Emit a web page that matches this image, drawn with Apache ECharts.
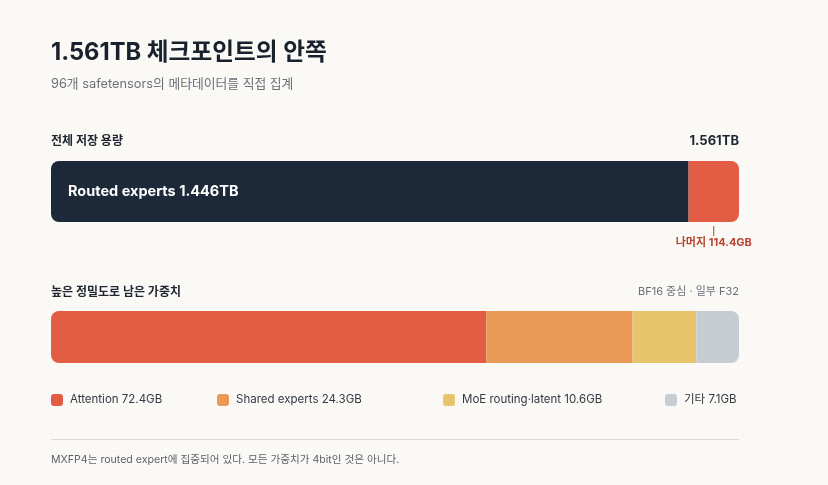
<!DOCTYPE html>
<html>
<head>
<meta charset="utf-8">
<script src="https://cdn.jsdelivr.net/npm/echarts@6/dist/echarts.min.js"></script>
<style>
  html, body { margin: 0; padding: 0; background: #faf9f6; }
  #chart { width: 828px; height: 485px; }
</style>
</head>
<body>
<div id="chart"></div>
<script>
// 전체 저장 용량 (GB)
const storageNames = ['Routed experts', '나머지'];
const storageValues = [1446, 114.4];
const storageLabels = ['1.446TB', '114.4GB'];
const totalLabel = '1.561TB';

// 높은 정밀도로 남은 가중치 (GB)
const precisionNames = ['Attention', 'Shared experts', 'MoE routing·latent', '기타'];
const precisionValues = [72.4, 24.3, 10.6, 7.1];
const precisionLabels = ['72.4GB', '24.3GB', '10.6GB', '7.1GB'];

const FONT = 'Inter, "Noto Sans CJK KR", sans-serif';
const storageColors = ['#1d2939', '#e35d45'];
const precisionColors = ['#e35d45', '#e89a56', '#e8c56d', '#c5cdd3'];

const sum = a => a.reduce((s, v) => s + v, 0);

const chart = echarts.init(document.getElementById('chart'));

function radius(i, n, r) {
  if (n === 1) return r;
  if (i === 0) return [r, 0, 0, r];
  if (i === n - 1) return [0, r, r, 0];
  return 0;
}

const series = [];
storageNames.forEach((name, i) => {
  series.push({
    type: 'bar',
    name: name,
    stack: 'storage',
    xAxisIndex: 0,
    yAxisIndex: 0,
    barWidth: 61,
    data: [storageValues[i]],
    itemStyle: { color: storageColors[i], borderRadius: radius(i, storageNames.length, 8) },
    label: i === 0 ? {
      show: true,
      position: 'insideLeft',
      distance: 17,
      formatter: name + ' ' + storageLabels[i],
      color: '#ffffff',
      fontFamily: FONT,
      fontSize: 14.5,
      fontWeight: 'bold'
    } : { show: false },
    silent: true
  });
});
const legendNames = precisionNames.map((n, i) => n + ' ' + precisionLabels[i]);
precisionNames.forEach((name, i) => {
  series.push({
    type: 'bar',
    name: legendNames[i],
    stack: 'precision',
    xAxisIndex: 1,
    yAxisIndex: 1,
    barWidth: 52,
    data: [precisionValues[i]],
    itemStyle: { color: precisionColors[i], borderRadius: radius(i, precisionNames.length, 8) },
    silent: true
  });
});

const legendLeft = [51, 217, 443, 665];
const legends = legendNames.map((n, i) => ({
  data: [n],
  left: legendLeft[i],
  top: 394,
  icon: 'roundRect',
  itemWidth: 12,
  itemHeight: 12,
  itemGap: 0,
  selectedMode: false,
  padding: 0,
  textStyle: { fontFamily: FONT, fontSize: 11.5, color: '#333a44', padding: [0, 0, 0, 2] }
}));

chart.setOption({
  backgroundColor: '#faf9f6',
  animation: false,
  grid: [
    { left: 51, width: 688, top: 161, height: 61 },
    { left: 51, width: 688, top: 311, height: 52 }
  ],
  xAxis: [
    { type: 'value', gridIndex: 0, min: 0, max: sum(storageValues), show: false },
    { type: 'value', gridIndex: 1, min: 0, max: sum(precisionValues), show: false }
  ],
  yAxis: [
    { type: 'category', gridIndex: 0, data: ['storage'], show: false },
    { type: 'category', gridIndex: 1, data: ['precision'], show: false }
  ],
  legend: legends,
  series: series
});

// 나머지 구간 중앙 위치
const restStart = chart.convertToPixel({ xAxisIndex: 0 }, storageValues[0]);
const restEnd = chart.convertToPixel({ xAxisIndex: 0 }, sum(storageValues));
const restMid = (restStart + restEnd) / 2;

const txt = (text, x, y, size, weight, fill, align) => ({
  type: 'text',
  x: x, y: y,
  silent: true,
  style: {
    text: text,
    font: weight + ' ' + size + 'px ' + FONT,
    fill: fill,
    align: align || 'left',
    verticalAlign: 'middle'
  }
});

chart.setOption({
  graphic: [
    txt('1.561TB 체크포인트의 안쪽', 51, 53, 23.7, 'bold', '#19212d'),
    txt('96개 safetensors의 메타데이터를 직접 집계', 51, 84, 12.8, 'normal', '#6b7079'),
    txt('전체 저장 용량', 51, 141, 12, 'bold', '#1f2630'),
    txt(totalLabel, 739, 141, 13, 'bold', '#1f2630', 'right'),
    {
      type: 'line', silent: true,
      shape: { x1: restMid, y1: 226, x2: restMid, y2: 236 },
      style: { stroke: '#b8452f', lineWidth: 1 }
    },
    txt(storageNames[1] + ' ' + storageLabels[1], restMid, 243, 11, 'bold', '#b8452f', 'center'),
    txt('높은 정밀도로 남은 가중치', 51, 292, 12, 'bold', '#1f2630'),
    txt('BF16 중심 · 일부 F32', 739, 292, 11, 'normal', '#6b7079', 'right'),
    {
      type: 'line', silent: true,
      shape: { x1: 51, y1: 439.5, x2: 739, y2: 439.5 },
      style: { stroke: '#dcdad6', lineWidth: 1 }
    },
    txt('MXFP4는 routed expert에 집중되어 있다. 모든 가중치가 4bit인 것은 아니다.', 51, 460, 10.6, 'normal', '#5c626b')
  ]
});
</script>
</body>
</html>
